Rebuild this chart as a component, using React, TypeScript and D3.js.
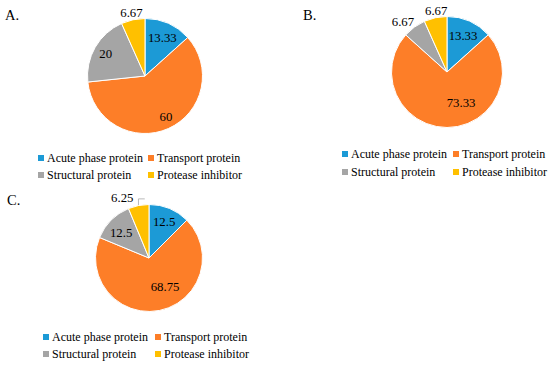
import React from "react";
import * as d3 from "d3";

const categories = [
  "Acute phase protein",
  "Transport protein",
  "Structural protein",
  "Protease inhibitor",
];
const valuesA = [13.33, 60, 20, 6.67];
const valuesB = [13.33, 73.33, 6.67, 6.67];
const valuesC = [12.5, 68.75, 12.5, 6.25];
const valueLabelsA = ["13.33", "60", "20", "6.67"];
const valueLabelsB = ["13.33", "73.33", "6.67", "6.67"];
const valueLabelsC = ["12.5", "68.75", "12.5", "6.25"];
const panelTitles = ["A.", "B.", "C."];

const colors = ["#1c9ad6", "#fd7e28", "#a5a5a5", "#ffc000"];
const FONT = "Liberation Serif, Times New Roman, serif";

interface Placement {
  angle: number | null; // degrees clockwise from 12 o'clock, null = slice middle
  k: number; // fraction of radius
}

interface Panel {
  title: string;
  titleX: number;
  titleY: number;
  values: number[];
  labels: string[];
  cx: number;
  cy: number;
  r: number;
  placement: Placement[];
  leader: boolean[];
  legendX: number;
  legendY: number;
  legendCol: number;
  legendRow: number;
}

const panels: Panel[] = [
  {
    title: panelTitles[0],
    titleX: 5,
    titleY: 20,
    values: valuesA,
    labels: valueLabelsA,
    cx: 145,
    cy: 76,
    r: 57.5,
    placement: [
      { angle: null, k: 0.74 },
      { angle: 153, k: 0.8 },
      { angle: null, k: 0.79 },
      { angle: null, k: 1.13 },
    ],
    leader: [false, false, false, false],
    legendX: 38,
    legendY: 158,
    legendCol: 110,
    legendRow: 17,
  },
  {
    title: panelTitles[1],
    titleX: 303,
    titleY: 20,
    values: valuesB,
    labels: valueLabelsB,
    cx: 447,
    cy: 72,
    r: 55.5,
    placement: [
      { angle: null, k: 0.71 },
      { angle: 155, k: 0.6 },
      { angle: 319, k: 1.21 },
      { angle: 350, k: 1.12 },
    ],
    leader: [false, false, false, false],
    legendX: 342,
    legendY: 154,
    legendCol: 111,
    legendRow: 18,
  },
  {
    title: panelTitles[2],
    titleX: 7,
    titleY: 205,
    values: valuesC,
    labels: valueLabelsC,
    cx: 149,
    cy: 258,
    r: 53.5,
    placement: [
      { angle: null, k: 0.74 },
      { angle: 151, k: 0.62 },
      { angle: 312, k: 0.7 },
      { angle: 336, k: 1.23 },
    ],
    leader: [false, false, false, true],
    legendX: 43,
    legendY: 337,
    legendCol: 112,
    legendRow: 17,
  },
];

const polar = (cx: number, cy: number, rad: number, deg: number): [number, number] => {
  const a = (deg * Math.PI) / 180;
  return [cx + rad * Math.sin(a), cy - rad * Math.cos(a)];
};

const PiePanel: React.FC<{ p: Panel }> = ({ p }) => {
  const pie = d3.pie<number>().sort(null).value((d) => d);
  const arcs = pie(p.values);
  const arc = d3.arc<d3.PieArcDatum<number>>().innerRadius(0).outerRadius(p.r);
  const fontSize = 12.8;

  return (
    <g>
      <text x={p.titleX} y={p.titleY} fontSize={14.5} fontFamily={FONT} fill="#000">
        {p.title}
      </text>
      <g transform={`translate(${p.cx},${p.cy})`}>
        {arcs.map((a, i) => (
          <path key={i} d={arc(a) || ""} fill={colors[i]} stroke="#fff" strokeWidth={1} />
        ))}
      </g>
      {arcs.map((a, i) => {
        const pl = p.placement[i];
        const mid = ((a.startAngle + a.endAngle) / 2) * (180 / Math.PI);
        const ang = pl.angle === null ? mid : pl.angle;
        const [lx, ly] = polar(p.cx, p.cy, p.r * pl.k, ang);
        let leader = null;
        if (p.leader[i]) {
          const halfW = p.labels[i].length * fontSize * 0.42;
          const [ex, ey] = polar(p.cx, p.cy, p.r + 0.5, mid);
          const yLine = ly + 1;
          leader = (
            <polyline
              points={`${lx + halfW + 1},${yLine} ${ex},${yLine} ${ex},${ey}`}
              fill="none"
              stroke="#a6a6a6"
              strokeWidth={0.8}
            />
          );
        }
        return (
          <g key={i}>
            {leader}
            <text
              x={lx}
              y={ly}
              dy="0.35em"
              textAnchor="middle"
              fontSize={fontSize}
              fontFamily={FONT}
              fill="#000"
            >
              {p.labels[i]}
            </text>
          </g>
        );
      })}
      {categories.map((c, i) => {
        const col = i % 2;
        const row = Math.floor(i / 2);
        const x = p.legendX + col * p.legendCol;
        const y = p.legendY + row * p.legendRow;
        return (
          <g key={c}>
            <rect x={x} y={y - 3} width={6} height={6} fill={colors[i]} />
            <text x={x + 9} y={y} dy="0.35em" fontSize={12} fontFamily={FONT} fill="#000">
              {c}
            </text>
          </g>
        );
      })}
    </g>
  );
};

const App: React.FC = () => {
  return (
    <svg
      width={550}
      height={365}
      viewBox="0 0 550 365"
      style={{ position: "absolute", left: 0, top: 0, background: "#fff" }}
    >
      <rect width={550} height={365} fill="#fff" />
      {panels.map((p) => (
        <PiePanel key={p.title} p={p} />
      ))}
    </svg>
  );
};

export default App;
